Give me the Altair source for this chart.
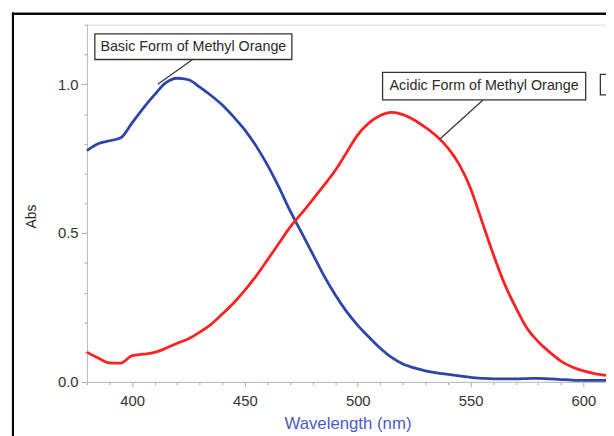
import altair as alt
import pandas as pd

# ---- data ----
wavelength = list(range(380, 611, 5))
basic_abs = [0.777, 0.800, 0.810, 0.820, 0.870, 0.920, 0.965, 1.005, 1.020, 1.015,
             0.990, 0.962, 0.930, 0.890, 0.846, 0.792, 0.728, 0.655, 0.575, 0.503,
             0.430, 0.357, 0.293, 0.237, 0.190, 0.150, 0.113, 0.082, 0.060, 0.047,
             0.037, 0.030, 0.025, 0.020, 0.015, 0.012, 0.010, 0.010, 0.010, 0.011,
             0.012, 0.010, 0.008, 0.006, 0.005, 0.005, 0.005]
acidic_abs = [0.100, 0.080, 0.064, 0.063, 0.088, 0.093, 0.099, 0.113, 0.130, 0.145,
              0.167, 0.193, 0.228, 0.265, 0.308, 0.356, 0.410, 0.465, 0.520, 0.565,
              0.612, 0.660, 0.710, 0.770, 0.830, 0.870, 0.895, 0.905, 0.898, 0.880,
              0.855, 0.825, 0.785, 0.730, 0.650, 0.540, 0.430, 0.330, 0.250, 0.180,
              0.135, 0.100, 0.070, 0.050, 0.037, 0.028, 0.022]
forms = ["Basic", "Acidic"]

x_ticks = list(range(380, 611, 10))
y_ticks = [0.0, 0.1, 0.2, 0.3, 0.4, 0.5, 0.6, 0.7, 0.8, 0.9, 1.0, 1.1, 1.2]

ann_labels = ["Basic Form of Methyl Orange", "Acidic Form of Methyl Orange"]
ann_box_x1 = [383.5, 511.0]
ann_box_x2 = [470.8, 601.0]
ann_box_y1 = [1.169, 1.040]
ann_box_y2 = [1.083, 0.947]
lead_x1 = [411.4, 536.3]
lead_y1 = [1.000, 0.815]
lead_x2 = [426.8, 555.5]
lead_y2 = [1.083, 0.947]

# partially visible third label box at right edge
extra_box_x1 = [607.5]
extra_box_x2 = [650.0]
extra_box_y1 = [1.033]
extra_box_y2 = [0.964]

n = len(wavelength)
df = pd.DataFrame({
    "wl": wavelength * 2,
    "abs": basic_abs + acidic_abs,
    "form": [forms[0]] * n + [forms[1]] * n,
})
ann = pd.DataFrame({
    "label": ann_labels,
    "x1": ann_box_x1, "x2": ann_box_x2, "y1": ann_box_y1, "y2": ann_box_y2,
    "xc": [(a + b) / 2 for a, b in zip(ann_box_x1, ann_box_x2)],
    "yc": [(a + b) / 2 for a, b in zip(ann_box_y1, ann_box_y2)],
    "lx1": lead_x1, "ly1": lead_y1, "lx2": lead_x2, "ly2": lead_y2,
})
extra = pd.DataFrame({"x1": extra_box_x1, "x2": extra_box_x2,
                      "y1": extra_box_y1, "y2": extra_box_y2})

FONT = "Liberation Sans"
xs = alt.Scale(domain=[380, 610], nice=False, zero=False)
ys = alt.Scale(domain=[0, 1.2], nice=False, zero=False)

x_axis = alt.Axis(
    values=x_ticks,
    labelExpr="datum.value % 50 == 0 ? datum.label : ''",
    tickSize={"condition": {"test": "datum.value % 50 == 0", "value": 5}, "value": 3},
    labelOverlap=False, labelFlush=False, grid=False,
    domainColor="#bbbbbb", tickColor="#aaaaaa",
    labelFont=FONT, labelFontSize=15, labelColor="#333333", labelPadding=7,
    title="Wavelength (nm)", titleFont=FONT, titleFontSize=17, titleFontWeight="normal",
    titleColor="#4a5cc0", titleX=264, titleY=34, titleBaseline="top", titleAlign="center",
)
y_axis = alt.Axis(
    values=y_ticks,
    labelExpr="round(datum.value*10) % 5 == 0 ? format(datum.value, '.1f') : ''",
    tickSize={"condition": {"test": "round(datum.value*10) % 5 == 0", "value": 6}, "value": 3},
    labelOverlap=False, labelFlush=False, grid=False,
    domainColor="#bbbbbb", tickColor="#aaaaaa",
    labelFont=FONT, labelFontSize=15, labelColor="#333333", labelPadding=3,
    title="Abs", titleFont=FONT, titleFontSize=14, titleFontWeight="normal",
    titleColor="#222222", titleX=-56, titleY=194, titleAngle=270,
    titleAlign="center", titleBaseline="middle",
)


def X(field):
    return alt.X(field, type="quantitative", scale=xs, axis=x_axis)


def Y(field):
    return alt.Y(field, type="quantitative", scale=ys, axis=y_axis)


lines = alt.Chart(df).mark_line(strokeWidth=2.8, interpolate="monotone").encode(
    x=X("wl"),
    y=Y("abs"),
    color=alt.Color("form:N", scale=alt.Scale(domain=forms, range=["#2e44aa", "#ff2222"]),
                    legend=None),
    detail="form:N",
)

leaders = alt.Chart(ann).mark_rule(color="#333333", strokeWidth=1.2).encode(
    x=X("lx1"), y=Y("ly1"), x2="lx2:Q", y2="ly2:Q")

boxes = alt.Chart(ann).mark_rect(fill="white", stroke="#333333", strokeWidth=1.3).encode(
    x=X("x1"), x2="x2:Q", y=Y("y1"), y2="y2:Q")

extra_box = alt.Chart(extra).mark_rect(fill="white", stroke="#333333", strokeWidth=1.3,
                                       clip=True).encode(
    x=X("x1"), x2="x2:Q", y=Y("y1"), y2="y2:Q")

texts = alt.Chart(ann).mark_text(font=FONT, fontSize=14.5, color="#2a2a2a",
                                 align="center", baseline="middle").encode(
    x=X("xc"), y=Y("yc"), text="label:N")

frame_left = alt.Chart(ann).mark_rule(color="black", strokeWidth=2).encode(
    x=alt.value(-75), y=alt.value(-12), y2=alt.value(420))
frame_top = alt.Chart(ann).mark_rule(color="black", strokeWidth=2).encode(
    x=alt.value(-76), x2=alt.value(540), y=alt.value(-11))

chart = alt.layer(lines, leaders, boxes, extra_box, texts, frame_left, frame_top).properties(
    width=526, height=362,
    autosize=alt.AutoSizeParams(type="none"),
    padding={"left": 80, "top": 14, "right": 0, "bottom": 56},
).configure_view(stroke="#dddddd", strokeWidth=1.5).configure(background="white")

chart.save("out.html", embed_options={"renderer": "svg", "actions": False})
